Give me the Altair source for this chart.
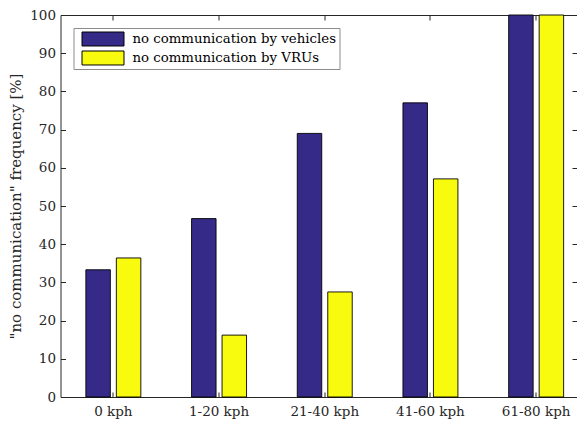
import altair as alt
import pandas as pd

categories = ["0 kph", "1-20 kph", "21-40 kph", "41-60 kph", "61-80 kph"]
vehicles = [33.3, 46.7, 69.0, 77.0, 100.0]
vrus = [36.4, 16.2, 27.5, 57.1, 100.0]
series_names = ["no communication by vehicles", "no communication by VRUs"]
y_ticks = list(range(0, 101, 10))

rows = []
for c, v in zip(categories, vehicles):
    rows.append({"speed": c, "series": series_names[0], "value": v})
for c, v in zip(categories, vrus):
    rows.append({"speed": c, "series": series_names[1], "value": v})
df = pd.DataFrame(rows)

W = 516.5
H = 382
AX = "#262626"
FONT = "DejaVu Serif"

rect_path = "M-1,-0.3333L1,-0.3333L1,0.3333L-1,0.3333Z"

chart = alt.Chart(df).mark_bar(stroke="#000000", strokeWidth=0.9).encode(
    x=alt.X("speed:N", sort=categories,
            scale=alt.Scale(range=[0, 528.5], paddingInner=0.48, paddingOuter=0.24, align=0.5),
            axis=alt.Axis(title=None, labelAngle=0, domain=True, domainColor=AX,
                          ticks=False, labelFont=FONT, labelFontSize=13.5,
                          labelColor=AX, labelPadding=7, bandPosition=0.5,
                          grid=True, gridColor=AX, gridOpacity=1, gridWidth=1,
                          gridDash=[5, H - 10, 5, 2000])),
    xOffset=alt.XOffset("series:N", sort=series_names,
                        scale=alt.Scale(paddingInner=0.197, paddingOuter=0)),
    y=alt.Y("value:Q", scale=alt.Scale(domain=[0, 100], nice=False),
            axis=alt.Axis(values=y_ticks, title='"no communication" frequency [%]',
                          domain=True, domainColor=AX, ticks=False,
                          labelFont=FONT, labelFontSize=13.5, labelColor=AX,
                          labelPadding=5, titleFont=FONT, titleFontSize=15,
                          titleFontWeight="normal", titleColor=AX, titlePadding=6,
                          grid=True, gridColor=AX, gridOpacity=1, gridWidth=1,
                          gridDash={"condition": {"test": "datum.value === 100", "value": [2000, 0]},
                                    "value": [5, W - 10, 5, 2000]})),
    color=alt.Color("series:N", sort=series_names,
                    scale=alt.Scale(domain=series_names, range=["#352a87", "#f9fb0e"]),
                    legend=alt.Legend(title=None, orient="top-left", offset=13,
                                      symbolType=rect_path, symbolSize=1764,
                                      symbolStrokeColor="#000000", symbolStrokeWidth=1,
                                      symbolOffset=5, labelOffset=8, padding=3,
                                      rowPadding=3, clipHeight=16, labelLimit=0,
                                      labelFont=FONT, labelFontSize=13.3, labelColor="#000000",
                                      strokeColor="#8c8c8c", fillColor="#ffffff")),
).properties(
    width=W, height=H,
    autosize=alt.AutoSizeParams(type="none"),
    padding={"left": 52.5, "top": 7, "right": 0, "bottom": 22},
).configure_view(stroke=None)

chart.save("out.html", embed_options={"renderer": "svg", "actions": False})
